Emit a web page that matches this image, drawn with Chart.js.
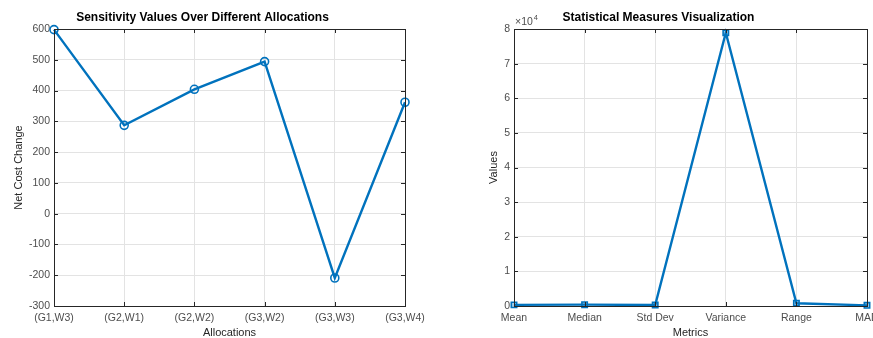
<!DOCTYPE html>
<html>
<head>
<meta charset="utf-8">
<script src="https://cdn.jsdelivr.net/npm/chart.js@4.4.1/dist/chart.umd.min.js"></script>
<style>
  html, body { margin: 0; padding: 0; background: #fff; overflow: hidden; }
  body { width: 873px; height: 338px; position: relative; }
  canvas { position: absolute; top: 0; }
  #left { left: 0; }
  #right { left: 450px; }
</style>
</head>
<body>
<canvas id="left" width="440" height="338"></canvas>
<canvas id="right" width="460" height="338"></canvas>
<script>
// data
const allocations = ["(G1,W3)", "(G2,W1)", "(G2,W2)", "(G3,W2)", "(G3,W3)", "(G3,W4)"];
const netCostChange = [598, 287, 404, 494, -209, 362];

const metrics = ["Mean", "Median", "Std Dev", "Variance", "Range", "MAD"];
const metricValues = [323, 383, 282, 78900, 807, 189];

const leftTicks = [-300, -200, -100, 0, 100, 200, 300, 400, 500, 600];
const rightTicks = [0, 1, 2, 3, 4, 5, 6, 7, 8];

const FONT = "'Liberation Sans', Arial, Helvetica, sans-serif";
const BLUE = "#0072BD";
const AXIS = "#262626";
const GRID = "#e3e3e3";

// box around the plot, inward tick marks, and the exponent label
const matlabAxes = {
    id: "matlabAxes",
    afterDraw: function (chart, args, opts) {
        const ctx = chart.ctx;
        const a = chart.chartArea;
        const xs = chart.scales.x;
        const ys = chart.scales.y;
        ctx.save();
        ctx.strokeStyle = AXIS;
        ctx.lineWidth = 1;
        ctx.strokeRect(Math.round(a.left) + 0.5, Math.round(a.top) + 0.5,
            Math.round(a.right - a.left), Math.round(a.bottom - a.top));
        ctx.beginPath();
        ys.ticks.forEach(function (t) {
            const y = Math.round(ys.getPixelForValue(t.value)) + 0.5;
            ctx.moveTo(a.left, y); ctx.lineTo(a.left + 4, y);
            ctx.moveTo(a.right, y); ctx.lineTo(a.right - 4, y);
        });
        xs.ticks.forEach(function (t, i) {
            const x = Math.round(xs.getPixelForTick(i)) + 0.5;
            ctx.moveTo(x, a.bottom); ctx.lineTo(x, a.bottom - 4);
            ctx.moveTo(x, a.top); ctx.lineTo(x, a.top + 4);
        });
        ctx.stroke();
        if (opts && opts.exponent) {
            ctx.fillStyle = "#4d4d4d";
            ctx.textBaseline = "alphabetic";
            ctx.textAlign = "left";
            ctx.font = "10.5px " + FONT;
            ctx.fillText("\u00d710", a.left + 1, a.top - 4);
            const w = ctx.measureText("\u00d710").width;
            ctx.font = "7.5px " + FONT;
            ctx.fillText(opts.exponent, a.left + 1 + w + 1, a.top - 9);
        }
        ctx.restore();
    },
};

function makeChart(el, cfg) {
    return new Chart(el, {
        type: "line",
        data: {
            labels: cfg.labels,
            datasets: [{
                data: cfg.values,
                borderColor: BLUE,
                borderWidth: 2.4,
                pointStyle: cfg.marker,
                pointRadius: cfg.markerSize,
                pointBorderColor: BLUE,
                pointBorderWidth: 1.6,
                pointBackgroundColor: cfg.markerFill,
                tension: 0,
                clip: false,
            }],
        },
        options: {
            responsive: false,
            animation: false,
            devicePixelRatio: 1,
            layout: { padding: { left: 0, right: cfg.padRight, top: 0, bottom: 0 } },
            plugins: {
                legend: { display: false },
                tooltip: { enabled: false },
                title: {
                    display: true,
                    text: cfg.title,
                    color: "#000",
                    font: { family: FONT, size: 12, weight: "bold" },
                    padding: { top: 10.8, bottom: 3.8 },
                },
                matlabAxes: { exponent: cfg.exponent },
            },
            scales: {
                x: {
                    offset: false,
                    grid: { color: GRID, drawTicks: false, offset: false },
                    border: { display: false },
                    ticks: {
                        color: "#4d4d4d",
                        font: { family: FONT, size: 10.5 },
                        padding: 6,
                        autoSkip: false,
                        maxRotation: 0,
                    },
                    title: {
                        display: true,
                        text: cfg.xTitle,
                        color: AXIS,
                        font: { family: FONT, size: 11 },
                        padding: { top: 0, bottom: -2 },
                    },
                    afterFit: function (scale) { scale.height = 32; },
                },
                y: {
                    min: cfg.yMin,
                    max: cfg.yMax,
                    grid: { color: GRID, drawTicks: false },
                    border: { display: false },
                    ticks: {
                        stepSize: cfg.yStep,
                        color: "#4d4d4d",
                        font: { family: FONT, size: 10.5 },
                        padding: 4,
                        callback: cfg.yFormat,
                    },
                    title: {
                        display: true,
                        text: cfg.yTitle,
                        color: AXIS,
                        font: { family: FONT, size: 11 },
                        padding: { top: cfg.yTitlePad, bottom: 0 },
                    },
                    afterFit: function (scale) { scale.width = cfg.yWidth; },
                },
            },
        },
        plugins: [matlabAxes],
    });
}

makeChart(document.getElementById("left"), {
    labels: allocations,
    values: netCostChange,
    title: "Sensitivity Values Over Different Allocations",
    xTitle: "Allocations",
    yTitle: "Net Cost Change",
    yMin: leftTicks[0],
    yMax: leftTicks[leftTicks.length - 1],
    yStep: 100,
    yFormat: function (v) { return v; },
    yWidth: 54,
    yTitlePad: 12,
    padRight: 35,
    marker: "circle",
    markerSize: 4,
    markerFill: "rgba(255,255,255,0)",
});

makeChart(document.getElementById("right"), {
    labels: metrics,
    values: metricValues,
    title: "Statistical Measures Visualization",
    xTitle: "Metrics",
    yTitle: "Values",
    yMin: rightTicks[0] * 10000,
    yMax: rightTicks[rightTicks.length - 1] * 10000,
    yStep: 10000,
    yFormat: function (v) { return v / 10000; },
    yWidth: 64,
    yTitlePad: 37,
    padRight: 43,
    marker: "rect",
    markerSize: 3.8,
    markerFill: "rgba(0,114,189,0.35)",
    exponent: "4",
});
</script>
</body>
</html>
